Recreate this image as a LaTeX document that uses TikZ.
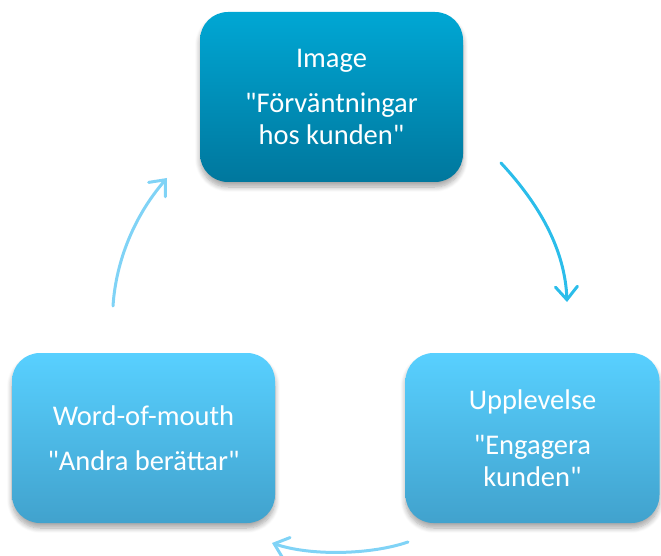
\documentclass[tikz,border=0pt]{standalone}
\usepackage{fontspec}
\setmainfont{Carlito}[Ligatures=TeXOff]
\usetikzlibrary{arrows.meta,shadows.blur}
\definecolor{topA}{HTML}{00A7D4}
\definecolor{topB}{HTML}{00779D}
\definecolor{lightA}{HTML}{58D0FF}
\definecolor{lightB}{HTML}{41A2CD}
\definecolor{arrDark}{HTML}{2BBDEA}
\definecolor{arrLight}{HTML}{80D3F6}
\tikzset{
  card/.style={rounded corners=28pt, minimum height=170pt, align=center,
    text=white, font=\fontsize{28.5}{32}\selectfont, inner sep=0pt,
    blur shadow={shadow xshift=0pt, shadow yshift=-5pt, shadow blur steps=8, shadow opacity=35, shadow blur radius=5pt}},
  darkcard/.style={card, top color=topA, bottom color=topB},
  lightcard/.style={card, top color=lightA, bottom color=lightB},
  flow/.style={line width=3pt, line cap=round, -{Straight Barb[length=13pt,width=22pt,line width=3pt,line cap=round]}}
}
\begin{document}
\begin{tikzpicture}[x=1pt,y=-1pt]
\useasboundingbox (0,0) rectangle (661,556);
\node[darkcard, minimum width=263pt] (img) at (331.5,97) {Image\\[13pt]"Förväntningar\\hos kunden"};
\node[lightcard, minimum width=263pt] (wom) at (143.5,438) {Word-of-mouth\\[13pt]"Andra berättar"};
\node[lightcard, minimum width=254pt] (upp) at (532.5,438) {Upplevelse\\[13pt]"Engagera\\kunden"};
\coordinate (a1s) at (501,163);
\coordinate (a1e) at (567,302);
\coordinate (a2s) at (408,542);
\coordinate (a2e) at (272,543);
\coordinate (a3s) at (113,306);
\coordinate (a3e) at (167,178);
\draw[flow, arrDark] (a1s) .. controls (540,205) and (565,250) .. (a1e);
\draw[flow, arrLight] (a2s) .. controls (370,555) and (310,556) .. (a2e);
\draw[flow, arrLight] (a3s) .. controls (116,260) and (135,215) .. (a3e);
\end{tikzpicture}
\end{document}
